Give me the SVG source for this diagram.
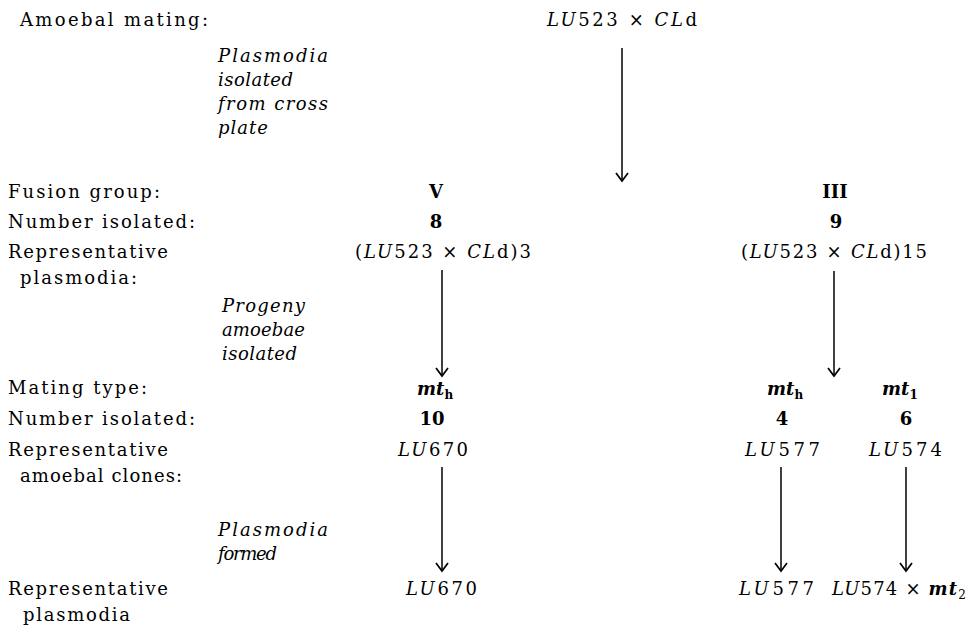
<svg xmlns="http://www.w3.org/2000/svg" width="972" height="628" viewBox="0 0 972 628">
<defs>
<style>
text{font-family:"DejaVu Serif","Liberation Serif",serif;font-size:18px;fill:#000}
.note{font-style:italic}
.num{font-weight:bold;text-anchor:middle}
.it{font-style:italic}
.mt{font-style:italic;font-weight:bold}
.sub{font-size:12px;font-style:normal}
.conn line{stroke:#000;stroke-width:1.5;fill:none;marker-end:url(#ah)}
</style>
<marker id="ah" viewBox="-10 -7 12 14" refX="0" refY="0" markerWidth="12" markerHeight="14" markerUnits="userSpaceOnUse" orient="auto">
<path d="M-8,-6 L0,0 L-8,6" fill="none" stroke="#000" stroke-width="1.7"/>
</marker>
</defs>
<rect width="972" height="628" fill="#fff"/>

<g id="labels">
<text x="20" y="26" textLength="188" lengthAdjust="spacing">Amoebal mating:</text>
<text x="8" y="198" textLength="152" lengthAdjust="spacing">Fusion group:</text>
<text x="8" y="228" textLength="187" lengthAdjust="spacing">Number isolated:</text>
<text x="8" y="258" textLength="160" lengthAdjust="spacing">Representative</text>
<text x="20" y="284" textLength="117" lengthAdjust="spacing">plasmodia:</text>
<text x="8" y="394" textLength="139" lengthAdjust="spacing">Mating type:</text>
<text x="8" y="425" textLength="187" lengthAdjust="spacing">Number isolated:</text>
<text x="8" y="456" textLength="160" lengthAdjust="spacing">Representative</text>
<text x="20" y="482" textLength="162" lengthAdjust="spacing">amoebal clones:</text>
<text x="8" y="595" textLength="160" lengthAdjust="spacing">Representative</text>
<text x="23" y="621" textLength="107" lengthAdjust="spacing">plasmodia</text>
</g>

<g id="notes">
<text class="note" x="218" y="62" textLength="110" lengthAdjust="spacing">Plasmodia</text>
<text class="note" x="218" y="86" textLength="75" lengthAdjust="spacing">isolated</text>
<text class="note" x="218" y="110" textLength="110" lengthAdjust="spacing">from cross</text>
<text class="note" x="218" y="134" textLength="50" lengthAdjust="spacing">plate</text>
<text class="note" x="222" y="312" textLength="83" lengthAdjust="spacing">Progeny</text>
<text class="note" x="222" y="336" textLength="83" lengthAdjust="spacing">amoebae</text>
<text class="note" x="222" y="360" textLength="75" lengthAdjust="spacing">isolated</text>
<text class="note" x="218" y="536" textLength="110" lengthAdjust="spacing">Plasmodia</text>
<text class="note" x="218" y="560" textLength="59" lengthAdjust="spacing">formed</text>
</g>

<g id="cross">
<text x="547" y="26" textLength="150" lengthAdjust="spacing"><tspan class="it">LU</tspan>523 × <tspan class="it">CL</tspan>d</text>
</g>

<g id="groupV">
<text class="num" x="436" y="198">V</text>
<text class="num" x="436" y="228">8</text>
<text x="355" y="258" textLength="176" lengthAdjust="spacing">(<tspan class="it">LU</tspan>523 × <tspan class="it">CL</tspan>d)3</text>
</g>

<g id="groupIII">
<text class="num" x="835" y="198">III</text>
<text class="num" x="836" y="228">9</text>
<text x="741" y="258" textLength="186" lengthAdjust="spacing">(<tspan class="it">LU</tspan>523 × <tspan class="it">CL</tspan>d)15</text>
</g>

<g id="cloneV">
<text class="mt" x="417" y="395">mt<tspan class="sub" dy="4">h</tspan></text>
<text class="num" x="432" y="425">10</text>
<text x="398" y="456" textLength="70" lengthAdjust="spacing"><tspan class="it">LU</tspan>670</text>
</g>

<g id="clone577">
<text class="mt" x="767" y="395">mt<tspan class="sub" dy="4">h</tspan></text>
<text class="num" x="782" y="425">4</text>
<text x="745" y="456" textLength="75" lengthAdjust="spacing"><tspan class="it">LU</tspan>577</text>
</g>

<g id="clone574">
<text class="mt" x="882" y="395">mt<tspan class="sub" dy="4">1</tspan></text>
<text class="num" x="906" y="425">6</text>
<text x="869" y="456" textLength="73" lengthAdjust="spacing"><tspan class="it">LU</tspan>574</text>
</g>

<g id="plasV">
<text x="406" y="595" textLength="71" lengthAdjust="spacing"><tspan class="it">LU</tspan>670</text>
</g>

<g id="plas577">
<text x="739" y="595" textLength="75" lengthAdjust="spacing"><tspan class="it">LU</tspan>577</text>
</g>

<g id="plas574">
<text x="832" y="595" textLength="134" lengthAdjust="spacing"><tspan class="it">LU</tspan>574 × <tspan class="mt">mt</tspan><tspan class="sub" dy="4">2</tspan></text>
</g>

<g id="connectors" class="conn">
<line x1="622" y1="48" x2="622" y2="181"/>
<line x1="442" y1="270" x2="442" y2="376"/>
<line x1="834" y1="271" x2="834" y2="376"/>
<line x1="442" y1="467" x2="442" y2="571"/>
<line x1="781" y1="467" x2="781" y2="571"/>
<line x1="906" y1="467" x2="906" y2="571"/>
</g>
</svg>
